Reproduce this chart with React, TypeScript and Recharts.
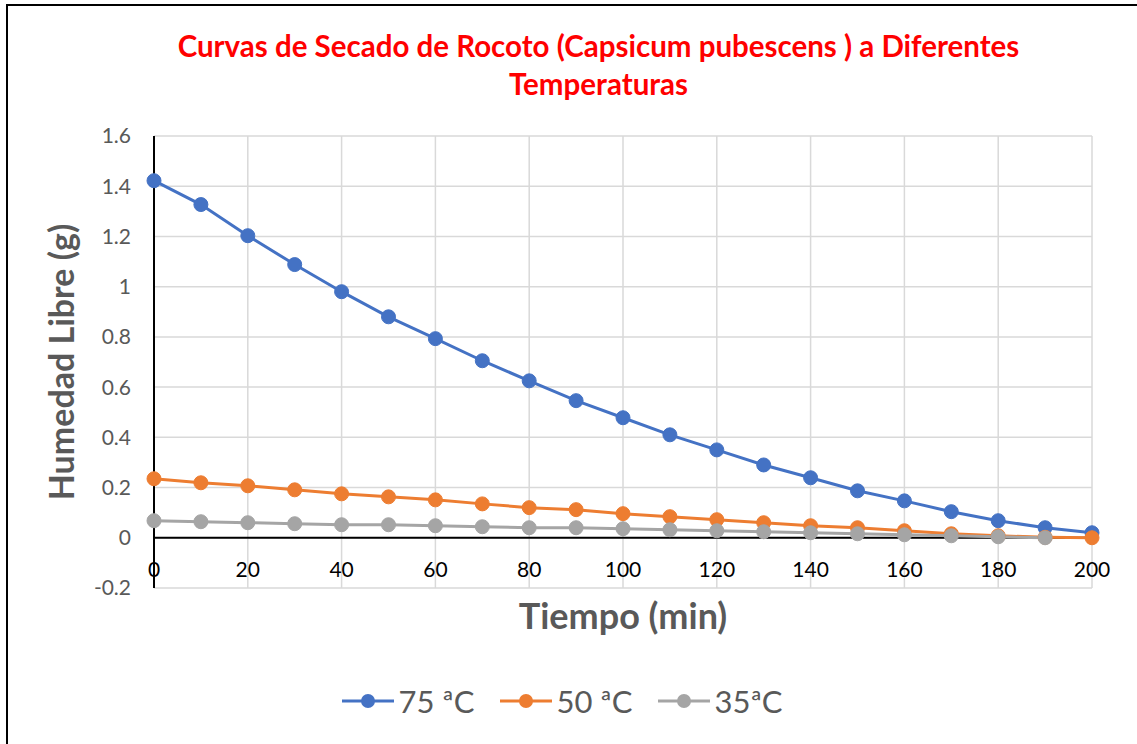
import { CartesianGrid, Legend, Line, LineChart, ReferenceLine, XAxis, YAxis } from "recharts";

const tiempo = [0, 10, 20, 30, 40, 50, 60, 70, 80, 90, 100, 110, 120, 130, 140, 150, 160, 170, 180, 190, 200];
const h75 = [1.422, 1.327, 1.203, 1.088, 0.98, 0.88, 0.793, 0.705, 0.625, 0.546, 0.478, 0.41, 0.35, 0.29, 0.239, 0.187, 0.147, 0.104, 0.068, 0.04, 0.02];
const h50 = [0.235, 0.219, 0.207, 0.191, 0.175, 0.163, 0.151, 0.135, 0.12, 0.112, 0.096, 0.084, 0.072, 0.06, 0.048, 0.04, 0.028, 0.016, 0.008, 0.002, 0.0];
const h35 = [0.068, 0.064, 0.06, 0.056, 0.052, 0.052, 0.048, 0.044, 0.04, 0.04, 0.036, 0.032, 0.028, 0.024, 0.02, 0.016, 0.012, 0.008, 0.004, 0.0, null];
const xTicks = [0, 20, 40, 60, 80, 100, 120, 140, 160, 180, 200];
const yTicks = [-0.2, 0, 0.2, 0.4, 0.6, 0.8, 1, 1.2, 1.4, 1.6];

const FONT = "Lato, 'Noto Sans', sans-serif";
const TXT = "#595959";

const series = [
  { key: "t75", label: "75 ªC", color: "#4472C4" },
  { key: "t50", label: "50 ªC", color: "#ED7D31" },
  { key: "t35", label: "35ªC", color: "#A5A5A5" },
];

const data = tiempo.map((t, i) => ({ t, t75: h75[i], t50: h50[i], t35: h35[i] }));

// x labels sit just under the zero line, not at the bottom of the plot
function XTick({ x, y, payload }: any) {
  return (
    <text x={x} y={y - 19} textAnchor="middle" fontSize={21} fontFamily={FONT} fill="#000">
      {payload.value}
    </text>
  );
}

function LegendBox() {
  return (
    <div style={{ display: "flex", justifyContent: "center", gap: 26, fontFamily: FONT, fontSize: 31, color: TXT, marginLeft: -12 }}>
      {series.map((s) => (
        <span key={s.key} style={{ display: "flex", alignItems: "center", gap: 4 }}>
          <svg width="52" height="16">
            <line x1="0" y1="8" x2="52" y2="8" stroke={s.color} strokeWidth="3" />
            <circle cx="26" cy="8" r="7" fill={s.color} />
          </svg>
          <span>{s.label}</span>
        </span>
      ))}
    </div>
  );
}

export default function App() {
  return (
    <div style={{ position: "absolute", left: 0, top: 0, width: 1137, height: 744, overflow: "hidden", background: "#fff" }}>
      <div style={{ position: "absolute", left: 6, top: 4, width: 1160, height: 780, border: "2px solid #000", boxSizing: "border-box" }} />
      <div
        style={{
          position: "absolute", left: 0, top: 27, width: 1197, textAlign: "center",
          fontFamily: FONT, fontWeight: 700, fontSize: 29.5, lineHeight: "38px", color: "#FF0000",
        }}
      >
        Curvas de Secado de Rocoto (Capsicum pubescens ) a Diferentes
        <br />
        Temperaturas
      </div>
      <LineChart width={1137} height={744} data={data} margin={{ top: 136, right: 45, left: 94, bottom: 78 }} style={{ position: "absolute", left: 0, top: 0 }}>
        <CartesianGrid stroke="#D9D9D9" strokeWidth={1.5} />
        <XAxis
          dataKey="t"
          type="number"
          domain={[0, 200]}
          ticks={xTicks}
          height={40}
          axisLine={false}
          tickLine={false}
          tick={<XTick />}
          label={{ value: "Tiempo (min)", position: "insideBottom", offset: -1, fill: TXT, fontSize: 36, fontWeight: 700, fontFamily: FONT }}
        />
        <YAxis
          type="number"
          domain={[-0.2, 1.6]}
          ticks={yTicks}
          width={60}
          axisLine={{ stroke: "#000", strokeWidth: 2 }}
          tickLine={false}
          tickMargin={17}
          tickFormatter={(v: number) => String(Math.round(v * 10) / 10)}
          tick={{ fontSize: 21, fill: TXT, fontFamily: FONT }}
          label={{ value: "Humedad Libre (g)", angle: -90, position: "insideLeft", offset: -32, fill: TXT, fontSize: 34, fontWeight: 700, fontFamily: FONT, style: { textAnchor: "middle" } }}
        />
        <ReferenceLine y={0} stroke="#000" strokeWidth={2} />
        <Legend verticalAlign="bottom" wrapperStyle={{ left: 0, width: 1137, bottom: 24 }} content={() => <LegendBox />} />
        {series.map((s) => (
          <Line
            key={s.key}
            type="linear"
            dataKey={s.key}
            name={s.label}
            stroke={s.color}
            strokeWidth={3}
            dot={{ r: 7, fill: s.color, stroke: s.color, strokeWidth: 1 }}
            activeDot={false}
            isAnimationActive={false}
          />
        ))}
      </LineChart>
    </div>
  );
}
